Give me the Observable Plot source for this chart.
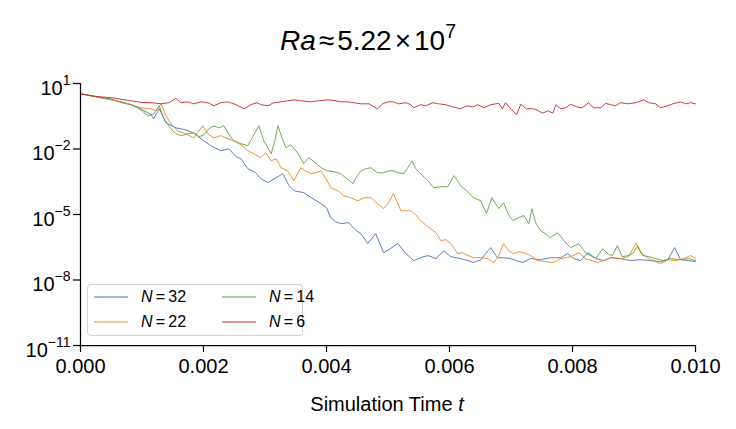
<!DOCTYPE html>
<html>
<head>
<meta charset="utf-8">
<script src="https://cdn.jsdelivr.net/npm/d3@7"></script>
<script src="https://cdn.jsdelivr.net/npm/@observablehq/plot@0.6"></script>
<style>
  body { margin: 0; background: #fff; font-family: "Liberation Sans", Arial, sans-serif; color: #000; }
  #wrap { position: relative; width: 736px; height: 429px; overflow: hidden; }
  #title { position: absolute; left: 0; top: 21px; width: 736px; text-align: center; font-size: 28px; line-height: 40px; white-space: nowrap; }
  #title sup { font-size: 0.7em; line-height: 0; vertical-align: 0.62em; }
  #title .op { margin: 0 3px; }
  #chart { position: absolute; left: 0; top: 62px; }
  #xlabel { position: absolute; left: 19px; width: 736px; top: 392px; text-align: center; font-size: 20px; line-height: 24px; }
  #legend { position: absolute; left: 87px; top: 284px; width: 214px; height: 50px; border: 1px solid #d0d0d0; border-radius: 4px; background: rgba(255,255,255,0.85); font-size: 16px; }
  .item { position: absolute; height: 20px; line-height: 20px; white-space: nowrap; }
  .item svg { position: absolute; left: 0; top: 0; }
  .item .lab { position: absolute; left: 47px; top: 0; }
</style>
</head>
<body>
<div id="wrap">
  <div id="title"><i>Ra</i><span class="op">≈</span>5.22<span class="op">×</span>10<sup>7</sup></div>
  <div id="chart"></div>
  <div id="xlabel">Simulation Time <i>t</i></div>
  <div id="legend"></div>
</div>
<script>
// Residual history for four resolutions N, log10 of the residual vs. simulation time t.
const seriesNames = ["N = 32", "N = 22", "N = 14", "N = 6"];
const seriesColors = ["#4a72b3", "#ef8427", "#5fa53e", "#c62830"];

const timeN32 = [0, 0.00017, 0.00033, 0.00050, 0.00066, 0.00082, 0.00098, 0.00115, 0.00119, 0.00128, 0.00139, 0.00155, 0.00171, 0.00184, 0.00196, 0.00212, 0.00228, 0.00241, 0.00253, 0.00261, 0.00272, 0.00285, 0.00293, 0.00305, 0.00318, 0.00329, 0.00339, 0.00347, 0.00363, 0.00378, 0.00391, 0.00400, 0.00407, 0.00415, 0.00423, 0.00436, 0.00448, 0.00456, 0.00467, 0.00480, 0.00493, 0.00504, 0.00516, 0.00529, 0.00542, 0.00553, 0.00565, 0.00578, 0.00591, 0.00602, 0.00618, 0.00630, 0.00639, 0.00651, 0.00660, 0.00667, 0.00678, 0.00688, 0.00699, 0.00709, 0.00719, 0.00732, 0.00748, 0.00764, 0.00781, 0.00792, 0.00802, 0.00813, 0.00825, 0.00838, 0.00851, 0.00862, 0.00878, 0.00894, 0.00911, 0.00927, 0.00943, 0.00955, 0.00966, 0.00976, 0.00989, 0.01000];
const log10ResN32 = [0.53, 0.44, 0.35, 0.25, 0.16, 0.03, -0.16, -0.43, -0.62, -0.16, -0.80, -1.03, -1.12, -1.26, -1.53, -1.85, -2.08, -1.99, -2.35, -2.45, -2.90, -3.09, -3.36, -3.54, -3.32, -3.13, -3.68, -3.91, -4.00, -4.28, -4.50, -4.69, -5.15, -5.33, -5.42, -5.37, -5.74, -5.88, -6.33, -5.88, -6.75, -6.56, -6.33, -6.79, -7.11, -6.98, -6.88, -7.02, -6.66, -6.93, -7.02, -7.11, -7.20, -7.07, -6.75, -6.52, -6.98, -6.98, -7.02, -7.11, -7.20, -7.02, -7.07, -6.98, -6.98, -6.79, -7.02, -7.11, -6.75, -7.02, -7.11, -6.98, -7.02, -7.11, -7.07, -7.11, -7.16, -7.07, -6.52, -7.07, -7.11, -7.16];

const timeN22 = [0, 0.00017, 0.00033, 0.00050, 0.00066, 0.00082, 0.00098, 0.00115, 0.00123, 0.00131, 0.00139, 0.00147, 0.00158, 0.00171, 0.00184, 0.00199, 0.00207, 0.00217, 0.00228, 0.00240, 0.00249, 0.00261, 0.00272, 0.00282, 0.00293, 0.00301, 0.00310, 0.00318, 0.00326, 0.00337, 0.00347, 0.00358, 0.00366, 0.00374, 0.00383, 0.00391, 0.00399, 0.00407, 0.00418, 0.00428, 0.00439, 0.00451, 0.00461, 0.00472, 0.00483, 0.00493, 0.00501, 0.00509, 0.00521, 0.00537, 0.00545, 0.00553, 0.00561, 0.00569, 0.00578, 0.00586, 0.00594, 0.00602, 0.00613, 0.00621, 0.00630, 0.00639, 0.00651, 0.00662, 0.00672, 0.00680, 0.00688, 0.00696, 0.00704, 0.00712, 0.00721, 0.00732, 0.00743, 0.00756, 0.00769, 0.00781, 0.00797, 0.00810, 0.00821, 0.00841, 0.00854, 0.00862, 0.00878, 0.00891, 0.00903, 0.00911, 0.00924, 0.00943, 0.00956, 0.00968, 0.00981, 0.00992, 0.01000];
const log10ResN22 = [0.53, 0.44, 0.35, 0.25, 0.16, 0.03, -0.11, -0.16, -0.25, 0.07, -0.48, -0.84, -1.17, -1.30, -1.49, -0.94, -1.30, -1.49, -1.39, -1.53, -1.62, -1.81, -2.08, -2.22, -2.40, -2.17, -2.54, -2.45, -2.86, -3.00, -3.45, -2.86, -3.00, -3.13, -3.09, -3.00, -3.36, -3.77, -3.91, -4.14, -4.23, -4.37, -4.23, -4.23, -4.50, -4.73, -4.46, -4.05, -4.83, -4.83, -5.01, -5.28, -5.47, -5.65, -5.83, -6.20, -6.15, -6.33, -6.79, -6.75, -6.88, -6.98, -6.98, -7.02, -7.20, -6.88, -6.33, -6.66, -6.79, -6.70, -6.75, -6.88, -7.11, -7.16, -7.20, -7.02, -6.93, -6.75, -7.02, -7.20, -7.07, -6.98, -7.02, -6.93, -6.33, -6.75, -7.02, -7.25, -7.07, -7.11, -7.02, -6.88, -7.02];

const timeN14 = [0, 0.00017, 0.00033, 0.00050, 0.00066, 0.00082, 0.00093, 0.00102, 0.00110, 0.00119, 0.00128, 0.00136, 0.00147, 0.00155, 0.00163, 0.00175, 0.00184, 0.00193, 0.00201, 0.00209, 0.00217, 0.00225, 0.00233, 0.00241, 0.00249, 0.00261, 0.00272, 0.00280, 0.00290, 0.00298, 0.00310, 0.00316, 0.00321, 0.00327, 0.00334, 0.00342, 0.00353, 0.00363, 0.00371, 0.00378, 0.00391, 0.00402, 0.00412, 0.00423, 0.00433, 0.00443, 0.00449, 0.00456, 0.00464, 0.00472, 0.00483, 0.00493, 0.00501, 0.00509, 0.00517, 0.00526, 0.00532, 0.00539, 0.00545, 0.00553, 0.00565, 0.00574, 0.00586, 0.00597, 0.00607, 0.00613, 0.00618, 0.00630, 0.00639, 0.00651, 0.00660, 0.00669, 0.00680, 0.00688, 0.00696, 0.00703, 0.00712, 0.00721, 0.00729, 0.00734, 0.00740, 0.00748, 0.00756, 0.00764, 0.00776, 0.00786, 0.00797, 0.00810, 0.00821, 0.00829, 0.00838, 0.00849, 0.00859, 0.00865, 0.00873, 0.00881, 0.00891, 0.00899, 0.00906, 0.00914, 0.00924, 0.00935, 0.00948, 0.00959, 0.00976, 0.00989, 0.01000];
const log10ResN14 = [0.53, 0.44, 0.35, 0.30, 0.12, 0.03, -0.11, -0.30, -0.48, -0.39, -0.02, -0.62, -1.07, -1.30, -1.39, -1.30, -1.26, -1.44, -1.35, -1.07, -0.94, -1.03, -0.94, -1.30, -1.62, -1.76, -1.85, -1.44, -0.94, -1.62, -2.22, -1.62, -0.94, -1.44, -1.94, -1.81, -2.17, -2.67, -2.40, -2.54, -2.86, -3.00, -3.04, -3.13, -3.36, -3.59, -3.27, -3.00, -2.90, -2.86, -3.09, -3.09, -3.00, -3.00, -3.09, -3.13, -2.86, -2.54, -2.90, -3.13, -3.45, -3.77, -3.73, -3.73, -3.22, -3.45, -3.68, -3.96, -4.23, -4.37, -4.96, -4.23, -4.73, -4.46, -5.01, -5.28, -5.15, -5.05, -5.42, -4.73, -5.37, -5.74, -5.88, -6.06, -5.83, -6.20, -6.52, -6.33, -6.75, -6.88, -7.02, -6.56, -6.84, -6.88, -6.43, -6.93, -6.88, -6.75, -6.43, -6.88, -6.93, -7.02, -7.11, -7.02, -7.07, -7.02, -7.11];

const timeN6 = [0, 0.00017, 0.00033, 0.00050, 0.00066, 0.00082, 0.00098, 0.00115, 0.00131, 0.00144, 0.00155, 0.00163, 0.00175, 0.00184, 0.00196, 0.00207, 0.00217, 0.00228, 0.00240, 0.00253, 0.00266, 0.00277, 0.00287, 0.00293, 0.00305, 0.00314, 0.00326, 0.00337, 0.00347, 0.00358, 0.00374, 0.00387, 0.00402, 0.00415, 0.00423, 0.00435, 0.00444, 0.00456, 0.00469, 0.00483, 0.00491, 0.00500, 0.00509, 0.00517, 0.00529, 0.00537, 0.00542, 0.00553, 0.00561, 0.00573, 0.00582, 0.00594, 0.00605, 0.00618, 0.00628, 0.00638, 0.00646, 0.00656, 0.00667, 0.00680, 0.00686, 0.00691, 0.00701, 0.00709, 0.00716, 0.00725, 0.00737, 0.00745, 0.00751, 0.00760, 0.00768, 0.00773, 0.00781, 0.00789, 0.00797, 0.00807, 0.00816, 0.00826, 0.00834, 0.00846, 0.00854, 0.00862, 0.00870, 0.00878, 0.00891, 0.00903, 0.00916, 0.00924, 0.00935, 0.00943, 0.00955, 0.00963, 0.00976, 0.00984, 0.00992, 0.01000];
const log10ResN6 = [0.53, 0.44, 0.39, 0.35, 0.28, 0.21, 0.14, 0.12, 0.07, 0.12, 0.32, 0.12, 0.16, 0.07, 0.16, 0.12, -0.02, 0.12, 0.16, 0.03, -0.16, 0.03, 0.12, 0.03, -0.02, 0.12, 0.16, 0.21, 0.25, 0.21, 0.16, 0.21, 0.25, 0.21, 0.16, 0.16, 0.12, 0.07, 0.07, -0.16, 0.07, 0.16, 0.16, 0.07, 0.12, 0.03, -0.11, 0.03, -0.02, 0.12, 0.07, 0.03, -0.07, -0.16, -0.02, -0.07, 0.03, -0.11, 0.03, 0.09, -0.16, 0.12, -0.20, -0.43, 0.05, -0.16, -0.16, -0.25, -0.36, -0.25, -0.36, 0.03, -0.16, -0.11, 0.05, -0.07, -0.11, 0.12, -0.11, -0.11, 0.09, 0.03, -0.02, 0.12, 0.07, 0.12, 0.25, 0.12, 0.07, -0.11, -0.02, 0.07, 0.16, 0.07, 0.12, 0.07];

const xTicks = [0, 0.002, 0.004, 0.006, 0.008, 0.010];
const yTicks = [1e1, 1e-2, 1e-5, 1e-8, 1e-11];

const seriesTimes = [timeN32, timeN22, timeN14, timeN6];
const seriesLogs = [log10ResN32, log10ResN22, log10ResN14, log10ResN6];

const tables = seriesNames.map((name, i) =>
  seriesTimes[i].map((t, j) => ({series: name, t, residual: Math.pow(10, seriesLogs[i][j])}))
);

const chart = Plot.plot({
  width: 736,
  height: 367,
  marginTop: 21,
  marginBottom: 84,
  marginLeft: 80,
  marginRight: 41,
  style: {fontFamily: "Liberation Sans, Arial, sans-serif", fontSize: "20px", color: "#000", background: "transparent", overflow: "visible"},
  x: {domain: [0, 0.01]},
  y: {type: "log", domain: [1e-11, 10]},
  color: {domain: seriesNames, range: seriesColors},
  marks: [
    ...tables.map(rows => Plot.line(rows, {x: "t", y: "residual", stroke: "series", strokeWidth: 0.9})),
    Plot.ruleX([0], {stroke: "#000", strokeWidth: 1.25}),
    Plot.ruleY([1e-11], {stroke: "#000", strokeWidth: 1.25}),
    Plot.axisX({ticks: xTicks, tickFormat: d3.format(".3f"), tickSize: 7, tickPadding: 6, strokeWidth: 1.25, label: null, fontSize: 20}),
    Plot.axisY({ticks: yTicks, tickFormat: d => { const e = Math.round(Math.log10(d)); return (e < 0 ? "\u2212" : "") + Math.abs(e); }, tickSize: 7, tickPadding: 3, strokeWidth: 1.25, label: null, fontSize: 20})
  ]
});

// Write the y tick labels as powers of ten with a raised exponent.
d3.select(chart).selectAll('g[aria-label="y-axis tick label"] text').each(function () {
  const exp = this.textContent;
  const text = d3.select(this).text(null);
  text.append("tspan").attr("dy", "5").text("10");
  text.append("tspan").attr("dy", "-10").attr("font-size", "14px").text(exp);
});

document.getElementById("chart").appendChild(chart);

// Legend in two columns, lower left of the axes.
const legend = document.getElementById("legend");
const slots = [[6, 2], [6, 27], [134, 2], [134, 27]];
seriesNames.forEach((name, i) => {
  const item = document.createElement("div");
  item.className = "item";
  item.style.left = slots[i][0] + "px";
  item.style.top = slots[i][1] + "px";
  const num = name.split(" = ")[1];
  item.innerHTML = `<svg width="36" height="20"><line x1="0" x2="34" y1="10" y2="10" stroke="${seriesColors[i]}" stroke-width="1.2"/></svg><div class="lab"><i>N</i>\u2009=\u2009${num}</div>`;
  legend.appendChild(item);
});
</script>
</body>
</html>
